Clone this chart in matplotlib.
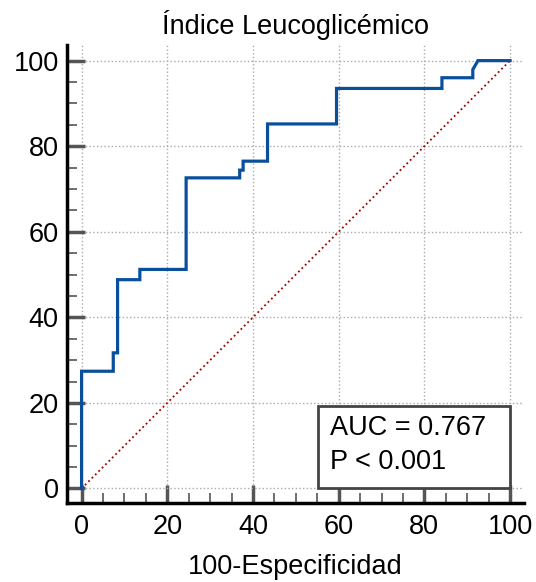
import numpy as np
import matplotlib.pyplot as plt
from matplotlib.ticker import MultipleLocator
from matplotlib.patches import Rectangle

plt.rcParams['font.family'] = ['Liberation Sans', 'DejaVu Sans']

# ROC curve (100-Especificidad, Sensibilidad) corner points
fpr = [0, 0, 7.4, 7.4, 8.4, 8.4, 13.6, 13.6, 24.4, 24.4, 36.9, 36.9, 37.7, 37.7,
       43.4, 43.4, 59.5, 59.5, 84.1, 84.1, 91.3, 91.3, 92.5, 100]
tpr = [0, 27.4, 27.4, 31.7, 31.7, 48.8, 48.8, 51.2, 51.2, 72.6, 72.6, 74.4, 74.4, 76.5,
       76.5, 85.2, 85.2, 93.5, 93.5, 96.0, 96.0, 97.9, 100, 100]
auc_lines = ["AUC = 0.767", "P < 0.001"]
ticks = [0, 20, 40, 60, 80, 100]

fig = plt.figure(figsize=(5.36, 5.82), dpi=100)
ax = fig.add_axes([0.125, 0.1357, 0.853, 0.7866])

ax.plot([0, 100], [0, 100], color='#a00000', linestyle=':', linewidth=1.3, zorder=2)
ax.plot(fpr, tpr, color='#0a4f9c', linewidth=2.3, zorder=3, solid_joinstyle='miter')

ax.set_xlim(-3.4, 103.3)
ax.set_ylim(-3.4, 103.6)
ax.set_xticks(ticks)
ax.set_yticks(ticks)
ax.xaxis.set_minor_locator(MultipleLocator(5))
ax.yaxis.set_minor_locator(MultipleLocator(5))
ax.tick_params(which='major', direction='in', length=13, width=2.5, color='#555555',
               labelsize=19.5, pad=8)
ax.tick_params(which='minor', direction='in', length=7, width=1.2, color='#555555')
ax.tick_params(axis='y', which='major', pad=6)

for s in ['top', 'right']:
    ax.spines[s].set_visible(False)
for s in ['left', 'bottom']:
    ax.spines[s].set_linewidth(2.5)

ax.grid(True, which='major', linestyle=':', color='#aaaaaa', linewidth=1.0)
ax.set_axisbelow(True)

# AUC box
ax.add_patch(Rectangle((55.1, 0.2), 44.8, 19.1, facecolor='white', edgecolor='#444444',
                       linewidth=2, zorder=5))
ax.text(58.0, 14.2, auc_lines[0], fontsize=19.5, va='center', ha='left', zorder=6)
ax.text(58.0, 6.1, auc_lines[1], fontsize=19.5, va='center', ha='left', zorder=6)

ax.set_title('Índice Leucoglicémico', fontsize=19.5, pad=8)
ax.set_xlabel('100-Especificidad', fontsize=19.5, labelpad=10)

fig.savefig('out.png', dpi=100)
